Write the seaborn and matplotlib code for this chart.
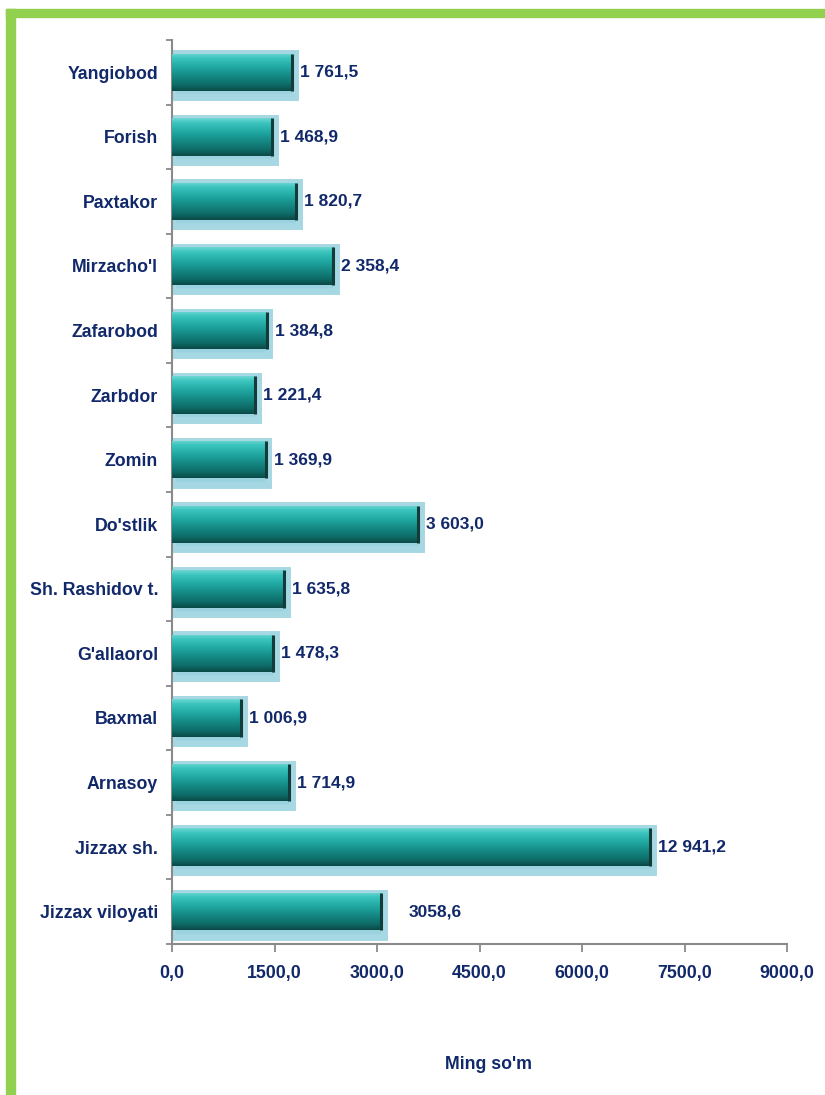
import numpy as np
import pandas as pd
import matplotlib
matplotlib.use("Agg")
import matplotlib.pyplot as plt
from matplotlib import font_manager
from matplotlib.colors import LinearSegmentedColormap
from matplotlib.patches import Rectangle
import seaborn as sns

# ---- data ----
regions = ["Yangiobod", "Forish", "Paxtakor", "Mirzacho'l", "Zafarobod", "Zarbdor",
           "Zomin", "Do'stlik", "Sh. Rashidov t.", "G'allaorol", "Baxmal", "Arnasoy",
           "Jizzax sh.", "Jizzax viloyati"]
values = [1761.5, 1468.9, 1820.7, 2358.4, 1384.8, 1221.4, 1369.9, 3603.0,
          1635.8, 1478.3, 1006.9, 1714.9, 12941.2, 3058.6]
value_labels = ["1 761,5", "1 468,9", "1 820,7", "2 358,4", "1 384,8", "1 221,4",
                "1 369,9", "3 603,0", "1 635,8", "1 478,3", "1 006,9", "1 714,9",
                "12 941,2", "3058,6"]
xticks = [0, 1500, 3000, 4500, 6000, 7500, 9000]
xtick_labels = ["0,0", "1500,0", "3000,0", "4500,0", "6000,0", "7500,0", "9000,0"]
x_title = "Ming so'm"
display_cap = 7000  # the largest bar is drawn cut short in the original

df = pd.DataFrame({"region": regions, "value": values})
df["plotted"] = np.minimum(df["value"], display_cap)

# ---- style ----
sns.set_theme(style="white")
installed = {f.name for f in font_manager.fontManager.ttflist}
if "Liberation Sans Narrow" in installed:
    plt.rcParams["font.family"] = ["Liberation Sans Narrow", "DejaVu Sans"]
    fs = 16
else:
    plt.rcParams["font.family"] = ["Liberation Sans", "DejaVu Sans"]
    fs = 12.8
plt.rcParams["font.weight"] = "bold"
navy = "#11296a"
axis_gray = "#8a8a8a"

fig = plt.figure(figsize=(8.25, 10.95), dpi=100)
ax = fig.add_axes([172 / 825, 1 - 944 / 1095, (787 - 172) / 825, (944 - 40) / 1095])

# halo / glow behind each bar
sns.barplot(data=df, x="plotted", y="region", orient="h", width=0.68,
            color="#9bd2df", saturation=1, edgecolor="#a6d8e3", linewidth=5,
            ax=ax, zorder=1)
n_halo = len(ax.patches)
# main bars
sns.barplot(data=df, x="plotted", y="region", orient="h", width=0.58,
            color="#1a9a94", saturation=1, linewidth=0, ax=ax, zorder=2)
main_patches = ax.patches[n_halo:]

# shift halo slightly downward (shadow-like)
for p in ax.patches[:n_halo]:
    p.set_y(p.get_y() + 0.045)
    p.set_width(p.get_width() + 40)

cmap = LinearSegmentedColormap.from_list(
    "teal", [(0.0, "#6fd6d2"), (0.12, "#3cc5bf"), (0.35, "#22aaa4"),
             (0.6, "#158a85"), (0.85, "#0e6a66"), (1.0, "#0a4a47")])
grad = np.linspace(0, 1, 64).reshape(-1, 1)
for p in main_patches:
    x0, y0, w, h = p.get_x(), p.get_y(), p.get_width(), p.get_height()
    im = ax.imshow(grad, cmap=cmap, extent=[x0, x0 + w, y0 + h, y0], origin="upper",
                   aspect="auto", zorder=3, interpolation="bilinear")
    im.set_clip_path(p)
    # dark bevelled end
    ax.plot([x0 + w, x0 + w], [y0, y0 + h], color="#123b3a", lw=2.2,
            solid_capstyle="butt", zorder=4)

ax.set_xlim(0, 9000)
ax.set_ylim(len(regions) - 0.5, -0.5)

# value labels
offsets = [8] * (len(regions) - 1) + [28]
for p, lab, off in zip(main_patches, value_labels, offsets):
    ax.annotate(lab, (p.get_x() + p.get_width(), p.get_y() + p.get_height() / 2),
                xytext=(off, 0), textcoords="offset pixels", ha="left", va="center",
                fontsize=fs * 0.98, fontweight="bold", color=navy, zorder=5)

# axes styling
for s in ["top", "right"]:
    ax.spines[s].set_visible(False)
for s in ["left", "bottom"]:
    ax.spines[s].set_color(axis_gray)
    ax.spines[s].set_linewidth(1.5)

ax.set_xticks(xticks)
ax.set_xticklabels(xtick_labels)
ax.tick_params(axis="x", which="major", direction="out", length=6, width=1.3,
               color=axis_gray, pad=9, labelsize=fs, labelcolor=navy, bottom=True)
ax.set_yticks(np.arange(len(regions) + 1) - 0.5, minor=True)
ax.tick_params(axis="y", which="minor", direction="out", length=4, width=1.3,
               color=axis_gray, left=True)
ax.tick_params(axis="y", which="major", length=0, pad=10, labelsize=fs, labelcolor=navy)
for t in ax.get_xticklabels() + ax.get_yticklabels():
    t.set_fontweight("bold")

ax.set_ylabel("")
ax.set_xlabel(x_title, fontsize=fs, fontweight="bold", color=navy)
ax.xaxis.set_label_coords(0.515, -0.124)
ax.grid(False)

# green frame (top and left)
green = "#92d050"
fig.patches.append(Rectangle((6 / 825, 0), 9 / 825, 1 - 9 / 1095,
                             transform=fig.transFigure, color=green, zorder=0))
fig.patches.append(Rectangle((6 / 825, 1 - 17 / 1095), 1 - 6 / 825, 8 / 1095,
                             transform=fig.transFigure, color=green, zorder=0))

fig.savefig("out.png", dpi=100)
